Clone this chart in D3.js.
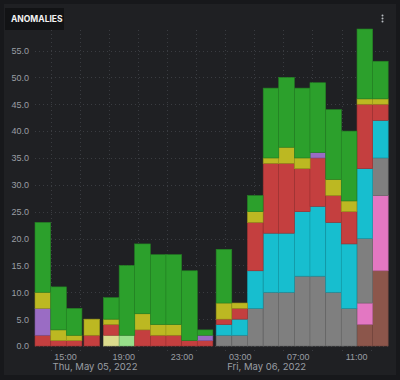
<!DOCTYPE html>
<html>
<head>
<meta charset="utf-8">
<script src="https://cdn.jsdelivr.net/npm/d3@7"></script>
<style>
  html, body { margin: 0; padding: 0; background: #17181b; }
  svg { display: block; font-family: Inter, "Noto Sans", sans-serif; }
</style>
</head>
<body>
<div id="chart"></div>
<script>
// bucket start times (one bar per bucket)
const times = [
  "2022-05-05T12:56", "2022-05-05T14:01", "2022-05-05T15:05", "2022-05-05T16:18",
  "2022-05-05T17:38", "2022-05-05T18:43", "2022-05-05T19:47", "2022-05-05T20:52",
  "2022-05-05T21:56", "2022-05-05T23:01", "2022-05-06T00:05", "2022-05-06T01:23",
  "2022-05-06T02:28", "2022-05-06T03:32", "2022-05-06T04:37", "2022-05-06T05:41",
  "2022-05-06T06:46", "2022-05-06T07:50", "2022-05-06T08:55", "2022-05-06T09:59",
  "2022-05-06T11:04", "2022-05-06T12:08"
];
const bucketMinutes = 64.5;

// series, listed bottom to top of the stack
const brown      = [0,0,0,0,0,0,0,0,0,0,0,0,0,0,0,0,0,0,0,0,4,14];
const pink       = [0,0,0,0,0,0,0,0,0,0,0,0,0,0,0,0,0,0,0,0,4,14];
const gray       = [0,0,0,0,0,0,0,0,0,0,0,2,2,7,10,10,13,13,10,7,12,7];
const cyan       = [0,0,0,0,0,0,0,0,0,0,0,2,3,7,11,11,12,13,13,12,13,7];
const lightOlive = [0,0,0,0,2,0,0,0,0,0,0,0,0,0,0,0,0,0,0,0,0,0];
const lightGreen = [0,0,0,0,0,2,0,0,0,0,0,0,0,0,0,0,0,0,0,0,0,0];
const red        = [2,1,1,2,2,0,3,2,2,1,1,1,2,9,13,13,8,9,5,6,12,3];
const purple     = [5,0,0,0,0,0,0,0,0,0,1,0,0,0,0,0,0,1,0,0,0,0];
const olive      = [3,2,1,3,1,0,3,2,2,0,0,3,1,2,1,3,2,0,3,2,1,1];
const green      = [13,8,5,0,4,13,13,13,13,13,1,10,0,3,13,13,13,13,13,13,13,7];

const seriesNames  = ["brown", "pink", "gray", "cyan", "lightOlive", "lightGreen", "red", "purple", "olive", "green"];
const seriesValues = [brown, pink, gray, cyan, lightOlive, lightGreen, red, purple, olive, green];
const seriesColors = ["#8c564b", "#e377c2", "#7f7f7f", "#17becf", "#dbdb8d", "#98df8a", "#c43f3f", "#9a6cc4", "#bcb822", "#2ca02c"];

const yTicks = [0, 5, 10, 15, 20, 25, 30, 35, 40, 45, 50, 55];
const xTicks = ["2022-05-05T15:00", "2022-05-05T19:00", "2022-05-05T23:00",
                "2022-05-06T03:00", "2022-05-06T07:00", "2022-05-06T11:00"];
const dayStarts = ["2022-05-05T15:00", "2022-05-06T03:00"];
const xDomain = ["2022-05-05T12:56", "2022-05-06T13:20"];

const W = 400, H = 380;
const plot = { left: 35, right: 390, top: 30, bottom: 346 };

const rows = times.map((t, i) => {
  const r = { time: new Date(t) };
  seriesNames.forEach((k, j) => { r[k] = seriesValues[j][i]; });
  return r;
});

const svg = d3.select("#chart").append("svg").attr("width", W).attr("height", H);

// panel
svg.append("rect").attr("x", 4).attr("y", 4).attr("width", W - 8).attr("height", H - 9)
  .attr("fill", "#1f2023");

const x = d3.scaleTime().domain(xDomain.map((d) => new Date(d))).range([plot.left, plot.right]);
const y = d3.scaleLinear().domain([0, 55]).range([plot.bottom, 50.5]);

// grid
const grid = svg.append("g").attr("stroke", "#3a3c41").attr("stroke-dasharray", "1 3").attr("stroke-width", 1);
grid.selectAll("line.h").data(yTicks).join("line").attr("class", "h")
  .attr("x1", plot.left).attr("x2", plot.right)
  .attr("y1", (d) => Math.round(y(d)) + 0.5).attr("y2", (d) => Math.round(y(d)) + 0.5);
grid.selectAll("line.v").data(x.ticks(d3.timeHour.every(2))).join("line").attr("class", "v")
  .attr("x1", (d) => Math.round(x(d)) + 0.5).attr("x2", (d) => Math.round(x(d)) + 0.5)
  .attr("y1", plot.top).attr("y2", plot.bottom + 6);

// bars
const stack = d3.stack().keys(seriesNames)(rows);
const bw = x(new Date(+rows[0].time + bucketMinutes * 60000)) - x(rows[0].time);
const layers = svg.append("g").selectAll("g").data(stack).join("g")
  .attr("fill", (d, i) => seriesColors[i])
  .attr("stroke", (d, i) => d3.color(seriesColors[i]).darker(0.6))
  .attr("stroke-width", 0.6);
layers.selectAll("rect").data((d) => d.filter((s) => s[1] > s[0])).join("rect")
  .attr("x", (d) => x(d.data.time))
  .attr("width", bw)
  .attr("y", (d) => y(d[1]))
  .attr("height", (d) => y(d[0]) - y(d[1]));

// y axis
const gy = svg.append("g").attr("transform", `translate(${plot.left},0)`)
  .call(d3.axisLeft(y).tickValues(yTicks).tickFormat(d3.format(".1f")).tickSize(0).tickPadding(6));
gy.select(".domain").remove();
gy.selectAll("text").attr("fill", "#9a9ea4").attr("font-size", 9).attr("font-family", null);

// x axis
const gx = svg.append("g").attr("transform", `translate(0,${plot.bottom})`)
  .call(d3.axisBottom(x).tickValues(xTicks.map((d) => new Date(d))).tickFormat(d3.timeFormat("%H:%M")).tickSize(0).tickPadding(8));
gx.select(".domain").remove();
gx.selectAll("text").attr("fill", "#9a9ea4").attr("font-size", 9).attr("font-family", null);

svg.append("g").selectAll("text").data(dayStarts.map((d) => new Date(d))).join("text")
  .attr("x", (d) => x(d) - 12.5).attr("y", 370)
  .attr("fill", "#9a9ea4").attr("font-size", 9.5)
  .text(d3.timeFormat("%a, %b %d, %Y"));

// title
svg.append("rect").attr("x", 5).attr("y", 8).attr("width", 59).attr("height", 22).attr("fill", "#121315");
svg.append("text").attr("x", 11).attr("y", 22).attr("fill", "#f2f2f2")
  .attr("font-size", 8.5).attr("font-weight", 700).text("ANOMALIES");

// menu dots
svg.append("g").selectAll("circle").data([0, 1, 2]).join("circle")
  .attr("cx", 382.5).attr("cy", (d) => 15.5 + d * 3).attr("r", 1).attr("fill", "#b8bcc2");
</script>
</body>
</html>
